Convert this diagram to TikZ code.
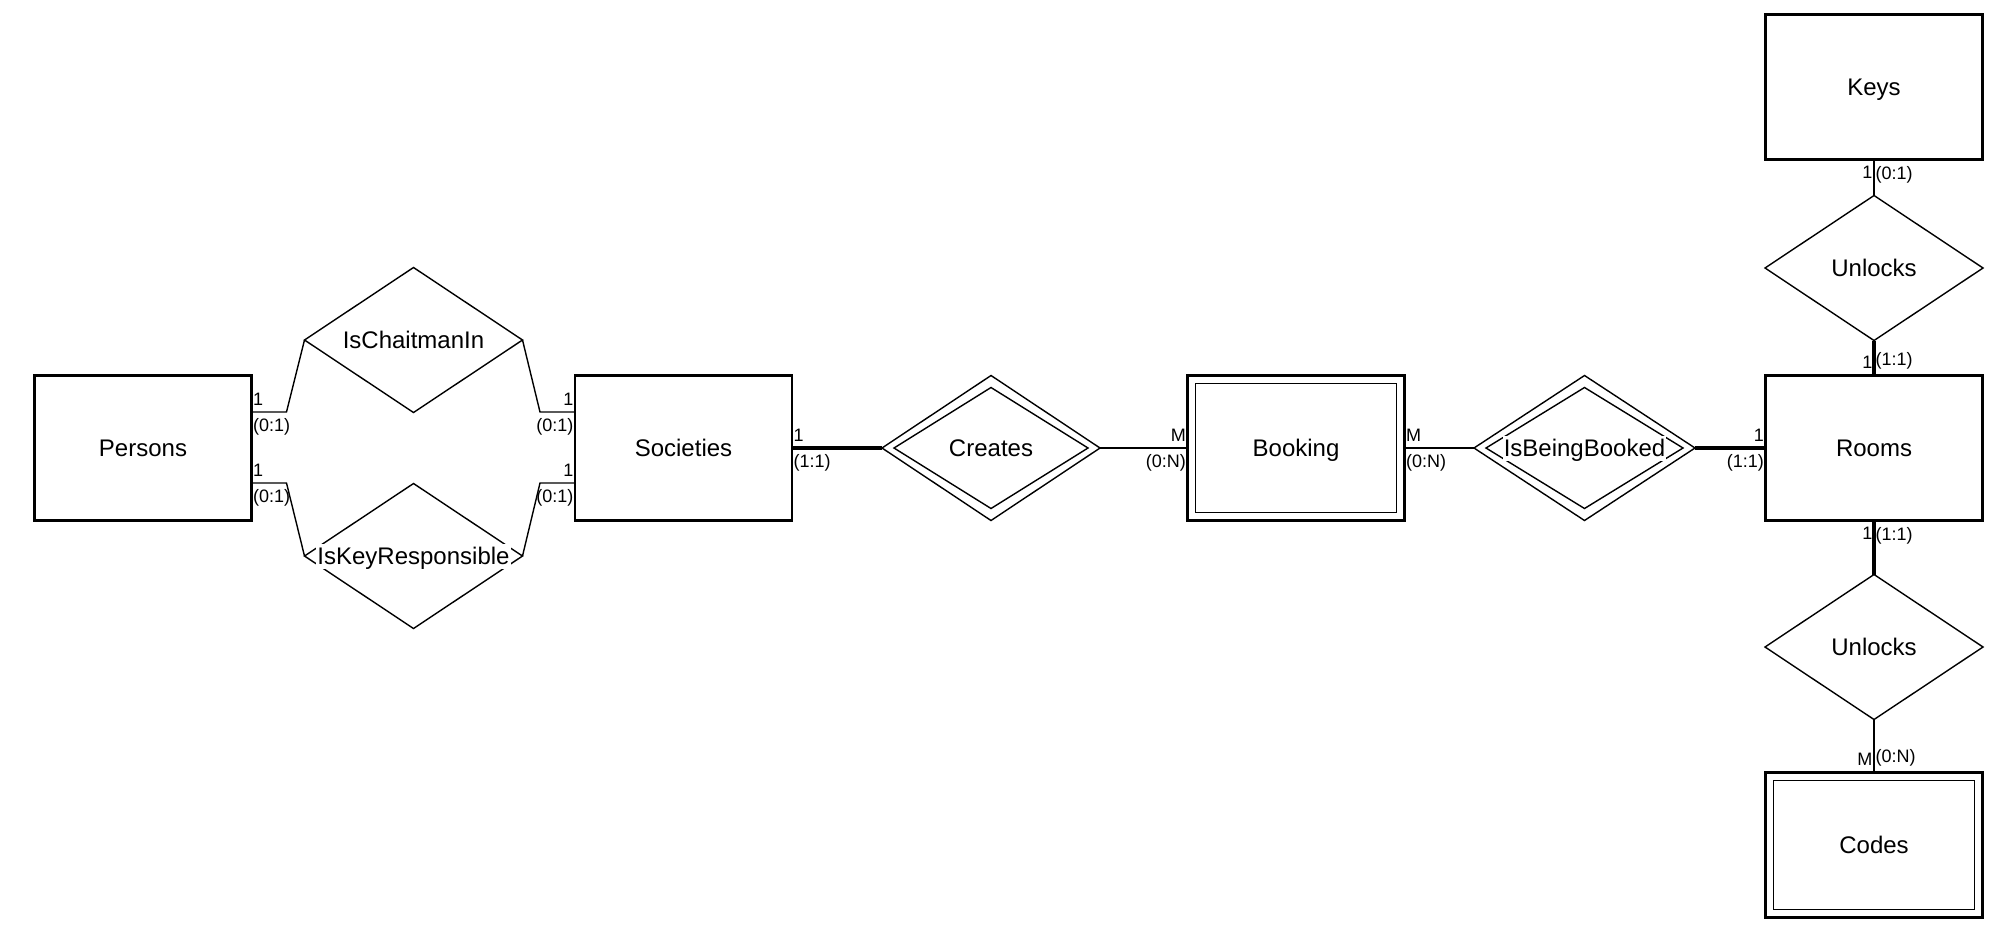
\documentclass[tikz,border=0pt]{standalone}
\usepackage{fontspec}
\setmainfont{Liberation Sans}
\usetikzlibrary{shapes.geometric,calc}

\begin{document}
\begin{tikzpicture}[x=1pt,y=-1pt,
  entity/.style={draw, line width=2.6pt, minimum width=217pt, minimum height=145pt,
    inner sep=0pt, outer sep=0pt, text height=17.3pt, text depth=0pt,
    font=\fontsize{24}{28}\selectfont},
  rel/.style={diamond, draw, line width=1.4pt, minimum width=218pt,
    minimum height=145pt, inner sep=0pt, outer sep=0pt},
  relinner/.style={diamond, draw, line width=1.4pt, minimum width=194pt,
    minimum height=121pt, inner sep=0pt, outer sep=0pt},
  reltext/.style={fill=white, inner sep=1pt, text height=20pt, text depth=3pt,
    font=\fontsize{24}{28}\selectfont},
  conn/.style={line width=1.4pt},
  strong/.style={line width=3.6pt},
  card/.style={inner xsep=1.5pt, inner ysep=6.5pt, font=\fontsize{18}{21}\selectfont}]

\useasboundingbox (0,0) rectangle (2010,943);

% entities
\node[entity] (persons)   at (143,448)    {Persons};
\node[entity] (societies) at (683.5,448)  {Societies};
\node[entity] (booking)   at (1296,448)   {Booking};
\node[entity] (rooms)     at (1874,448)   {Rooms};
\node[entity] (keys)      at (1874,87)    {Keys};
\node[entity] (codes)     at (1874,845)   {Codes};
% inner borders of the weak entities
\draw[line width=1.6pt] ($(booking.north west)+(8,8)$) rectangle ($(booking.south east)+(-8,-8)$);
\draw[line width=1.6pt] ($(codes.north west)+(8,8)$) rectangle ($(codes.south east)+(-8,-8)$);

% relationships
\node[rel] (chair)   at (413.5,340) {};
\node[rel] (keyresp) at (413.5,556) {};
\node[rel] (creates) at (991,448)   {};
\node[relinner] (creates-in) at (creates) {};
\node[rel, minimum width=221pt] (booked) at (1584.5,448) {};
\node[relinner, minimum width=197pt] (booked-in) at (booked) {};
\node[rel] (unlock1) at (1874,268) {};
\node[rel] (unlock2) at (1874,647) {};

% connectors
\draw[conn] ($(persons.east)+(0,-36)$) -- ++(35,0) -- (chair.west);
\draw[conn] (chair.east) -- ($(societies.west)+(-35,-36)$) -- ($(societies.west)+(0,-36)$);
\draw[conn] ($(persons.east)+(0,35)$) -- ++(35,0) -- (keyresp.west);
\draw[conn] (keyresp.east) -- ($(societies.west)+(-35,35)$) -- ($(societies.west)+(0,35)$);
\draw[strong] (societies.east) -- (creates.west);
\draw[conn] (creates.east) -- (booking.west);
\draw[conn] (booking.east) -- (booked.west);
\draw[strong] (booked.east) -- (rooms.west);
\draw[conn] (keys.south) -- (unlock1.north);
\draw[strong] (unlock1.south) -- (rooms.north);
\draw[strong] (rooms.south) -- (unlock2.north);
\draw[conn] (unlock2.south) -- (codes.north);

% relationship names
\node[reltext] (chair-t)   at (chair)   {IsChaitmanIn};
\node[reltext] (keyresp-t) at (keyresp) {IsKeyResponsible};
\node[reltext] (creates-t) at (creates) {Creates};
\node[reltext] (booked-t)  at (booked)  {IsBeingBooked};
\node[reltext] (unlock1-t) at (unlock1) {Unlocks};
\node[reltext] (unlock2-t) at (unlock2) {Unlocks};

% cardinalities
\coordinate (pa) at ($(persons.east)+(0,-36)$);
\coordinate (pb) at ($(persons.east)+(0,35)$);
\coordinate (sa) at ($(societies.west)+(0,-36)$);
\coordinate (sb) at ($(societies.west)+(0,35)$);
\node[card, anchor=south west] (pa1) at (pa) {1};
\node[card, anchor=north west] (pa2) at (pa) {(0:1)};
\node[card, anchor=south west] (pb1) at (pb) {1};
\node[card, anchor=north west] (pb2) at (pb) {(0:1)};
\node[card, anchor=south east] (sa1) at (sa) {1};
\node[card, anchor=north east] (sa2) at (sa) {(0:1)};
\node[card, anchor=south east] (sb1) at (sb) {1};
\node[card, anchor=north east] (sb2) at (sb) {(0:1)};

\node[card, anchor=south west] (sc1) at (societies.east) {1};
\node[card, anchor=north west] (sc2) at (societies.east) {(1:1)};
\node[card, anchor=south east] (bw1) at (booking.west) {M};
\node[card, anchor=north east] (bw2) at (booking.west) {(0:N)};
\node[card, anchor=south west] (be1) at (booking.east) {M};
\node[card, anchor=north west] (be2) at (booking.east) {(0:N)};
\node[card, anchor=south east] (rw1) at (rooms.west) {1};
\node[card, anchor=north east] (rw2) at (rooms.west) {(1:1)};

\node[card, anchor=north east] (ks1) at (keys.south) {1};
\node[card, anchor=north west] (ks2) at (keys.south) {(0:1)};
\node[card, anchor=south east] (rn1) at (rooms.north) {1};
\node[card, anchor=south west] (rn2) at (rooms.north) {(1:1)};
\node[card, anchor=north east] (rs1) at (rooms.south) {1};
\node[card, anchor=north west] (rs2) at (rooms.south) {(1:1)};
\node[card, anchor=south east] (cn1) at (codes.north) {M};
\node[card, anchor=south west] (cn2) at (codes.north) {(0:N)};
\end{tikzpicture}
\end{document}
